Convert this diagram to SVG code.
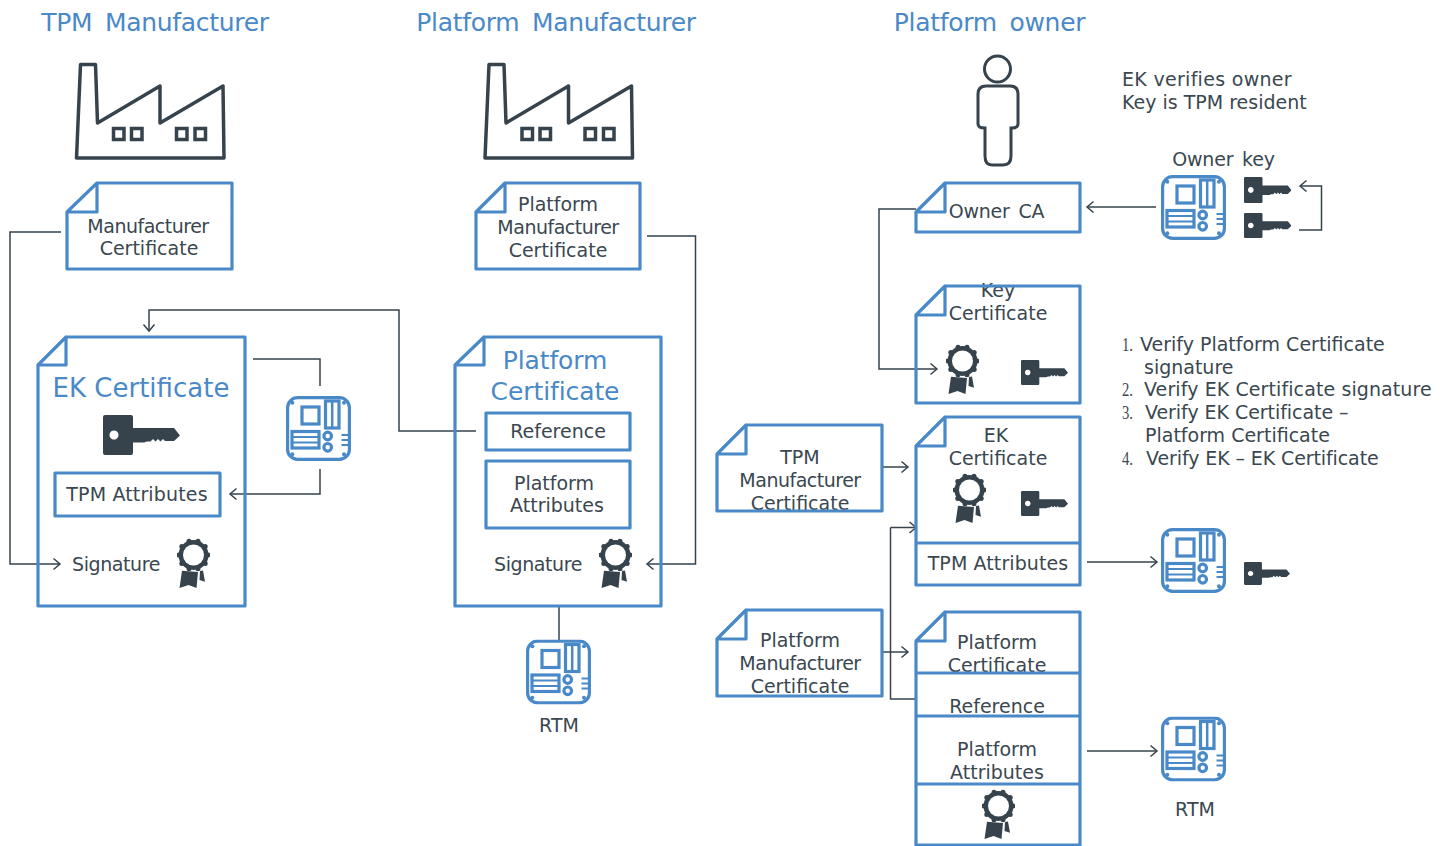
<svg xmlns="http://www.w3.org/2000/svg" width="1448" height="846" viewBox="0 0 1448 846">
<style>
text{font-family:"DejaVu Sans","Liberation Sans",sans-serif;fill:#3a4750;font-size:19px;text-anchor:middle}
.h{fill:#4a89c8;font-size:25px;word-spacing:5px;letter-spacing:-.3px}
.b{fill:#4a89c8;font-size:26px}
.p{fill:#4a89c8;font-size:25px;letter-spacing:-.1px}
.m{letter-spacing:-.5px}
.s{letter-spacing:-.4px}
.w{word-spacing:3px;letter-spacing:-.2px}
.l{text-anchor:start}
.n{font-family:"Liberation Serif",serif;font-size:19px;text-anchor:start}
.d{fill:none;stroke:#4a89c8;stroke-width:3.200;stroke-linejoin:round}
.c{fill:none;stroke:#36434d;stroke-width:1.500}
.a{marker-end:url(#arr)}
</style>
<defs>
<marker id="arr" markerUnits="userSpaceOnUse" markerWidth="14" markerHeight="18" refX="10" refY="8" orient="auto"><path d="M3.500 2.500L10 8L3.500 13.500" fill="none" stroke="#36434d" stroke-width="1.500"/></marker>
<symbol id="factory" viewBox="0 0 150 98" width="150" height="98" overflow="visible">
<path d="M4.500 1.500H19.500L21.500 60L84 23V60L147 23L148 95H0.500Z" fill="none" stroke="#36434d" stroke-width="3.500" stroke-linejoin="round"/>
<path d="M37.500 65.500H48V76.500H37.500ZM55.500 65.500H66V76.500H55.500ZM100.500 65.500H111V76.500H100.500ZM119 65.500H129.500V76.500H119Z" fill="none" stroke="#36434d" stroke-width="3.500"/>
</symbol>
<symbol id="chip" viewBox="0 0 65 65" width="65" height="65">
<g fill="none" stroke="#4a89c8" stroke-width="3.200">
<rect x="1.600" y="1.600" width="61.800" height="61.800" rx="10"/>
<rect x="16" y="11" width="17" height="17"/>
<rect x="39.500" y="5" width="13.500" height="27"/>
<path d="M46.200 5V32" stroke-width="2.500"/>
<rect x="6" y="35.500" width="27" height="16.500"/>
<path d="M6 41H33M6 46.500H33" stroke-width="2"/>
<circle cx="41.700" cy="40" r="3.800"/>
<circle cx="41.700" cy="51.300" r="3.800"/>
<path d="M55.500 39H63M55.500 44H63M55.500 49H63" stroke-width="2"/>
</g>
<g fill="#4a89c8"><circle cx="6.300" cy="6.700" r="2"/><circle cx="58" cy="6.700" r="2"/><circle cx="6.300" cy="58.300" r="2"/><circle cx="58" cy="58.300" r="2"/></g>
</symbol>
<symbol id="key" viewBox="0 0 77 40" preserveAspectRatio="none">
<path fill-rule="evenodd" fill="#36434d" d="M2 0H28Q30 0 30 2V13H71L77 20.500L71 26H62L60 24L57.500 26.500L55 24L52.500 26.500L50 24L47.500 26.500L44 26.500L41 27.500H30V38Q30 40 28 40H2Q0 40 0 38V2Q0 0 2 0ZM11 15.500a4.500 4.500 0 1 0 .01 0Z"/>
</symbol>
<symbol id="seal" viewBox="0 0 33 50" width="33" height="50">
<g fill="#36434d">
<path d="M5 32.700L21 34L19.500 50L11.500 47L2.500 50Z"/>
<path d="M23 33L26 32.500L28 43.700L22.500 42Z"/>
</g>
<g fill="#36434d"><circle cx="31" cy="17" r="2.500"/><circle cx="28.200" cy="25.500" r="2.500"/><circle cx="21" cy="30.800" r="2.500"/><circle cx="12" cy="30.800" r="2.500"/><circle cx="4.800" cy="25.500" r="2.500"/><circle cx="2" cy="17" r="2.500"/><circle cx="4.800" cy="8.500" r="2.500"/><circle cx="12" cy="3.200" r="2.500"/><circle cx="21" cy="3.200" r="2.500"/><circle cx="28.200" cy="8.500" r="2.500"/><circle cx="16.500" cy="17" r="15"/></g>
<circle cx="16.500" cy="17" r="10.500" fill="#fff"/>
</symbol>
</defs>
<rect width="1448" height="846" fill="#fff"/>

<g id="headings">
<text class="h" x="155" y="31">TPM Manufacturer</text>
<text class="h" x="556" y="31">Platform Manufacturer</text>
<text class="h" x="989.500" y="31">Platform owner</text>
</g>

<g id="connectors">
<path class="c a" d="M61 232H10V564H60"/>
<path class="c" d="M253 359H320V386"/>
<path class="c a" d="M320 469V494H230"/>
<path class="c a" d="M476 431H399V310H149V331"/>
<path class="c a" d="M647 236H695.500V564H647"/>
<path class="c" d="M559 607V640"/>
<path class="c a" d="M1156 207H1087"/>
<path class="c a" d="M1299 230H1321.500V186H1300"/>
<path class="c a" d="M916 209H879V369H937"/>
<path class="c a" d="M882 467H908"/>
<path class="c a" d="M882 652H908"/>
<path class="c" d="M916 699H890.500V527.500"/>
<path class="c a" d="M890.500 527.500H916"/>
<path class="c a" d="M1087 562H1157"/>
<path class="c a" d="M1087 751H1157"/>
</g>

<g id="tpm-factory"><use href="#factory" x="76" y="63"/></g>
<g id="platform-factory"><use href="#factory" x="484.500" y="63"/></g>

<g id="manufacturer-cert">
<text class="m" x="148" y="233">Manufacturer</text><text x="149" y="255">Certificate</text>
<path class="d" d="M97 183H232V269H67V212L97 183V212H67"/>
</g>
<g id="platform-manufacturer-cert">
<text x="558" y="211">Platform</text><text class="m" x="558" y="234">Manufacturer</text><text x="558" y="257">Certificate</text>
<path class="d" d="M505 183H640V269H476V212L505 183V212H476"/>
</g>

<g id="ek-cert">
<text class="b" x="141" y="397">EK Certificate</text>
<use href="#key" x="103" y="415" width="77" height="40"/>
<rect class="d" x="55" y="473" width="165" height="43"/>
<text x="137" y="501" style="letter-spacing:.15px">TPM Attributes</text>
<text class="s" x="116" y="571">Signature</text>
<use href="#seal" x="177" y="538"/>
<path class="d" d="M66 337H245V606H38V365L66 337V365H38"/>
</g>
<g id="tpm-chip"><use href="#chip" x="286" y="396"/></g>

<g id="platform-cert">
<text class="p" x="555" y="369">Platform</text><text class="p" x="555" y="400">Certificate</text>
<rect class="d" x="486" y="413" width="144" height="37"/>
<text x="558" y="438">Reference</text>
<rect class="d" x="486" y="461" width="144" height="67"/>
<text x="554" y="490">Platform</text><text x="557" y="512">Attributes</text>
<text class="s" x="538" y="571">Signature</text>
<use href="#seal" x="599" y="538"/>
<path class="d" d="M484 337H661V606H455V365L484 337V365H455"/>
</g>
<g id="rtm-left"><use href="#chip" x="526" y="639.500"/><text x="559" y="732">RTM</text></g>

<g id="owner"><circle cx="997.500" cy="69" r="13" fill="none" stroke="#36434d" stroke-width="3"/><path d="M986 86H1010Q1018 86 1018 94V124Q1018 128 1011 128V156Q1011 165 1003 165H992Q985 165 985 156V128Q978 128 978 124V94Q978 86 986 86Z" fill="none" stroke="#36434d" stroke-width="3"/></g>
<g id="owner-notes">
<text class="l" x="1122" y="86" style="letter-spacing:.3px">EK verifies owner</text>
<text class="l" x="1122" y="109">Key is TPM resident</text>
</g>
<g id="owner-ca">
<text class="w" x="996.500" y="218">Owner CA</text>
<path class="d" d="M945 183H1080V232H916V212L945 183V212H916"/>
</g>
<g id="owner-key">
<text class="w" x="1223.500" y="166">Owner key</text>
<use href="#chip" x="1161" y="175"/>
<use href="#key" x="1244" y="177" width="47.500" height="26"/>
<use href="#key" x="1244" y="213" width="47.500" height="25"/>
</g>
<g id="key-cert">
<text x="998" y="297">Key</text><text x="998" y="320">Certificate</text>
<use href="#seal" x="946" y="344"/>
<use href="#key" x="1021" y="360" width="47" height="25"/>
<path class="d" d="M945 286H1080V403H916V315L945 286V315H916"/>
</g>
<g id="verify-list">
<text class="n" x="1122" y="351" textLength="11" lengthAdjust="spacingAndGlyphs">1.</text><text class="l" x="1140" y="351">Verify Platform Certificate</text>
<text class="l" x="1144" y="374">signature</text>
<text class="n" x="1122" y="396" textLength="11" lengthAdjust="spacingAndGlyphs">2.</text><text class="l" x="1144" y="396" style="letter-spacing:.1px">Verify EK Certificate signature</text>
<text class="n" x="1122" y="419" textLength="11" lengthAdjust="spacingAndGlyphs">3.</text><text class="l" x="1145" y="419" style="letter-spacing:-.05px">Verify EK Certificate –</text>
<text class="l" x="1145" y="442">Platform Certificate</text>
<text class="n" x="1122" y="465" textLength="11" lengthAdjust="spacingAndGlyphs">4.</text><text class="l" x="1146" y="465" style="letter-spacing:-.1px">Verify EK – EK Certificate</text>
</g>
<g id="tpm-mfr-cert-2">
<text x="800" y="464">TPM</text><text class="m" x="800" y="487">Manufacturer</text><text x="800" y="510">Certificate</text>
<path class="d" d="M746 425H882V511H717V454L746 425V454H717"/>
</g>
<g id="ek-cert-2">
<text x="996" y="442">EK</text><text x="998" y="465">Certificate</text>
<use href="#seal" x="953" y="473"/>
<use href="#key" x="1021" y="491" width="47" height="25"/>
<text x="998" y="570" style="letter-spacing:.1px">TPM Attributes</text>
<path class="d" d="M945 417H1080V585H916V446L945 417V446H916M916 543H1080"/>
</g>
<g id="ek-result"><use href="#chip" x="1161" y="528"/><use href="#key" x="1244" y="562" width="46" height="23"/></g>
<g id="platform-mfr-cert-2">
<text x="800" y="647">Platform</text><text class="m" x="800" y="670">Manufacturer</text><text x="800" y="693">Certificate</text>
<path class="d" d="M746 610H882V696H717V639L746 610V639H717"/>
</g>
<g id="platform-cert-2">
<text x="997" y="649">Platform</text><text x="997" y="672">Certificate</text>
<text x="997" y="713">Reference</text>
<text x="997" y="756">Platform</text><text x="997" y="779">Attributes</text>
<use href="#seal" x="982" y="789"/>
<path class="d" d="M945 612H1080V845H916V641L945 612V641H916M916 673H1080M916 716H1080M916 784H1080"/>
</g>
<g id="rtm-right"><use href="#chip" x="1161" y="716.500"/><text x="1195" y="816">RTM</text></g>
</svg>
